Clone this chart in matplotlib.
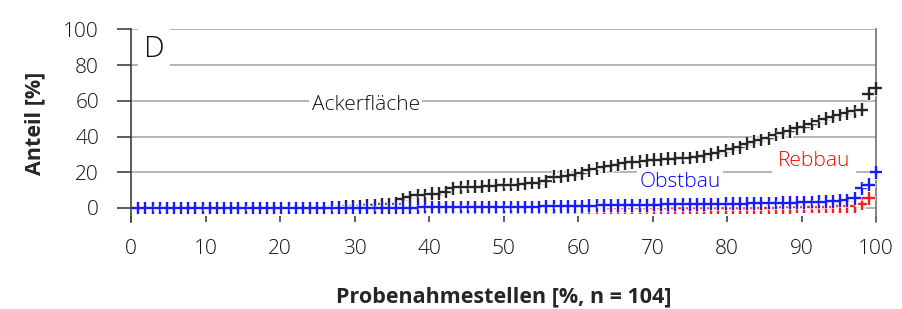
import matplotlib
matplotlib.use('Agg')

import matplotlib.pyplot as plt
import matplotlib.patheffects as pe
import numpy as np

plt.rcParams['font.family'] = ['Open Sans', 'DejaVu Sans']
plt.rcParams['font.weight'] = 'light'

# Share of each land use around the sampling points, sorted per series
n_sites = 104

acker = [0] * 27 + [
    0.5, 0.5, 1, 1, 1, 1.5, 1.5, 2, 2, 2.5,
    5, 6, 7, 7, 8, 8, 9, 11,
    11.5, 12, 12, 12, 12.5, 12.5, 13, 13, 13, 13.5, 14, 14, 15,
    17.5, 17.5, 18, 18.5,
    19.5, 21, 22, 23,
    23.5, 24, 25, 25.5, 26,
    26.5, 27, 27, 27.5, 27.5, 28, 28, 28.5, 29,
    30, 31, 32, 33,
    34, 36, 37, 38,
    39, 41, 42, 43,
    44.5, 45.5, 47, 48.5, 50,
    51, 52, 53, 54,
    55, 64, 67]

obst = [0] * 40 + [0.5] * 17 + [
    1, 1, 1, 1, 1, 1, 1.2, 1.2, 1.4, 1.4, 1.5, 1.5, 1.5, 1.6, 1.6, 1.8, 1.8, 2, 2, 2, 2,
    2, 2, 2.2, 2.2, 2.4, 2.4, 2.5, 2.5, 2.6, 2.6, 2.8, 2.8, 3, 3, 3,
    3.2, 3.3, 3.5, 3.5, 3.8, 4, 4.2,
    5.5, 11, 13, 20]

reb = [0] * 90 + [0.3, 0.3, 0.5, 0.5, 0.5, 0.5, 0.8, 0.8, 1, 1, 1] + [2.5, 5.5, 20]

x = np.arange(1, n_sites + 1) / n_sites * 100

# Create figure and axes
fig = plt.figure(figsize=(9.03, 3.09), dpi=100)
ax = fig.add_axes([0.1451, 0.2806, 0.825, 0.6246])

ax.set_xlim(0, 100)
ax.set_ylim(-8, 100)

# Grid and spines
ax.set_axisbelow(True)
ax.set_yticks([0, 20, 40, 60, 80, 100])
ax.set_xticks(np.arange(0, 101, 10))
ax.yaxis.grid(True, color='#a8a8a8', linewidth=1.2)
ax.spines['bottom'].set_visible(False)
ax.spines['top'].set_visible(False)
ax.spines['left'].set_color('#404040')
ax.spines['left'].set_linewidth(1.2)
ax.spines['right'].set_color('#707070')
ax.spines['right'].set_linewidth(1.2)

ax.tick_params(axis='y', direction='out', length=10, width=1.2, color='#404040',
               pad=13, labelsize=15, labelcolor='#111111')
ax.tick_params(axis='x', direction='in', length=4.5, width=1.2, color='#404040',
               pad=12, labelsize=15, labelcolor='#111111')

# Plot the three series with "+" markers
halo = [pe.withStroke(linewidth=3.8, foreground='white')]
ax.plot(x, acker, ls='none', marker='+', ms=9.2, mew=1.7, color='#262626',
        clip_on=False, path_effects=halo, zorder=3)
ax.plot(x, reb, ls='none', marker='+', ms=9.2, mew=1.7, color='#ff1a1a',
        clip_on=False, path_effects=halo, zorder=3)
ax.plot(x, obst, ls='none', marker='+', ms=9.2, mew=1.7, color='#1a1aff',
        clip_on=False, path_effects=halo, zorder=3)

# Series labels
box = dict(facecolor='white', edgecolor='none', pad=2)
ax.text(1.7, 89, 'D', fontsize=21, color='#111111', va='center', ha='left',
        bbox=dict(facecolor='white', edgecolor='none', pad=4), zorder=4)
ax.text(31.5, 57.5, 'Ackerfläche', fontsize=15, color='#111111', ha='center',
        va='center', bbox=box, zorder=4)
ax.text(73.7, 14.3, 'Obstbau', fontsize=15, color='#0000ff', ha='center',
        va='center', bbox=box, zorder=4)
ax.text(91.7, 26.5, 'Rebbau', fontsize=15, color='#ff0000', ha='center',
        va='center', bbox=dict(facecolor='white', edgecolor='none', pad=4), zorder=4)

# Axis titles
fig.text(0.0388, 0.6, 'Anteil [%]', rotation=90, fontsize=15.5, fontweight='bold',
         color='#262626', ha='center', va='center')
fig.text(0.5575, 0.039, 'Probenahmestellen [%, n = 104]', fontsize=15.5,
         fontweight='bold', color='#262626', ha='center', va='center')

plt.savefig('out.png', dpi=100)
